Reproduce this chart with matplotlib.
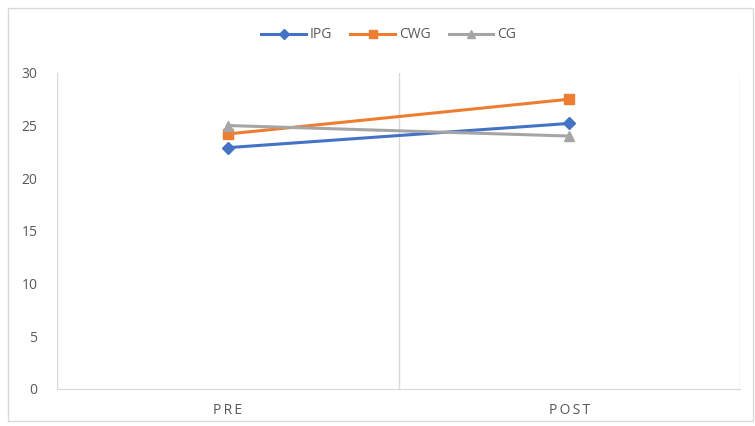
import matplotlib
matplotlib.use('Agg')
import matplotlib.pyplot as plt
from matplotlib.patches import Rectangle

plt.rcParams['font.family'] = ['Open Sans', 'DejaVu Sans']

categories = ['PRE', 'POST']
ipg = [22.9, 25.2]
cwg = [24.2, 27.5]
cg = [25.0, 24.0]

fig = plt.figure(figsize=(7.55, 4.26), dpi=100)
ax = fig.add_axes([0.0755, 0.087, 0.905, 0.742])

x = [0, 1]
ax.plot(x, ipg, color='#4472C4', lw=2.2, marker='D', ms=6, label='IPG', zorder=3)
ax.plot(x, cwg, color='#ED7D31', lw=2.2, marker='s', ms=7, label='CWG', zorder=3)
ax.plot(x, cg, color='#A5A5A5', lw=2.2, marker='^', ms=7, label='CG', zorder=3)

ax.set_xlim(-0.5, 1.5)
ax.set_ylim(0, 30)
ax.set_yticks(range(0, 31, 5))
ax.set_xticks(x)
ax.set_xticklabels(['\u2009'.join(c) for c in categories])

# category divider gridlines, like excel
for xv in [-0.5, 0.5, 1.5]:
    ax.axvline(xv, color='#D9D9D9', lw=1, zorder=1)

for s in ['top', 'left', 'right']:
    ax.spines[s].set_visible(False)
ax.spines['bottom'].set_color('#D9D9D9')
ax.tick_params(length=0, colors='#595959', labelsize=10)
ax.tick_params(axis='y', pad=14)
ax.tick_params(axis='x', pad=10)

fig.legend(loc='upper center', bbox_to_anchor=(0.515, 0.965), ncol=3, frameon=False,
           fontsize=10, labelcolor='#595959', handlelength=3.2, columnspacing=1.3,
           handletextpad=0.3, markerscale=0.8)

fig.patches.append(Rectangle((0.011, 0.012), 0.987, 0.97, transform=fig.transFigure,
                             fill=False, edgecolor='#D9D9D9', lw=1))

fig.savefig('out.png', dpi=100)
